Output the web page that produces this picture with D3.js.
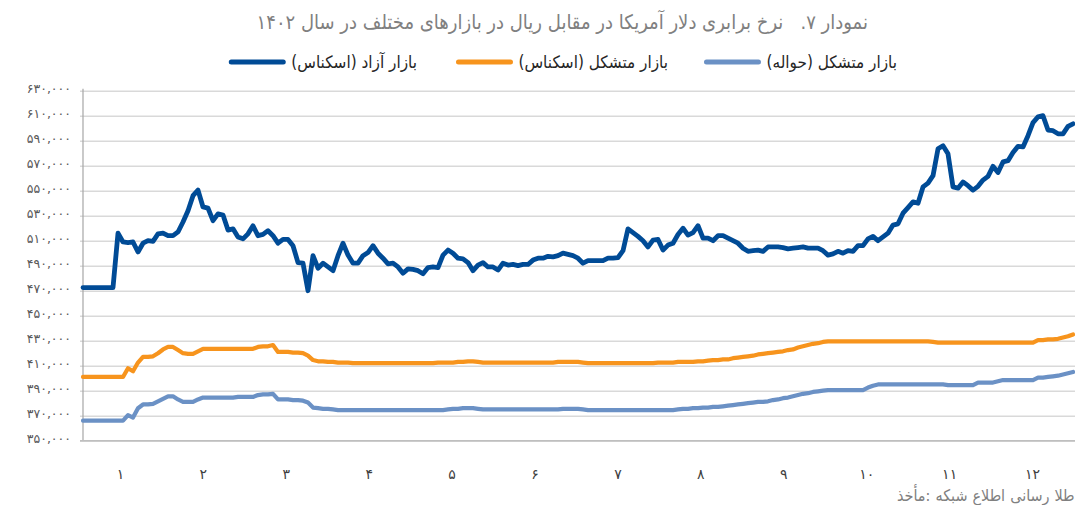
<!DOCTYPE html>
<html>
<head>
<meta charset="utf-8">
<script src="https://cdn.jsdelivr.net/npm/d3@7"></script>
<style>
  body { margin: 0; background: #fff; }
  svg { display: block; font-family: "DejaVu Sans Condensed", "DejaVu Sans", sans-serif; }
</style>
</head>
<body>
<svg width="1075" height="505"></svg>
<script>
var title = "نمودار ۷.   نرخ برابری دلار آمریکا در مقابل ریال در بازارهای مختلف در سال ۱۴۰۲";
// the source line has its words set left to right, and runs past the edge
var sourceWords = ["مأخذ:", "شبکه", "اطلاع", "رسانی", "طلا،", "سکه", "و", "ارز"];

var months = [1, 2, 3, 4, 5, 6, 7, 8, 9, 10, 11, 12];
var yTicks = [350000, 370000, 390000, 410000, 430000, 450000, 470000, 490000,
              510000, 530000, 550000, 570000, 590000, 610000, 630000];

var seriesNames = ["بازار آزاد (اسکناس)", "بازار متشکل (اسکناس)", "بازار متشکل (حواله)"];
var seriesColors = ["#004b96", "#f7941d", "#6b91c5"];

// free market, cash (rial per dollar)
var freeMarket = [
  472500, 472500, 472500, 472500, 472500, 472500, 472500,
  516000, 509000, 508500, 509000, 501000, 508000, 510000, 509500, 515500, 516000, 514000, 514000, 517000,
  525000, 534000, 546000, 550500, 537000, 536000, 526000, 531500, 530500, 518500, 519500, 513000, 511500, 515500, 522000, 514000, 515000, 518000, 514000, 508000,
  511000, 511000, 506000, 492500, 492000, 470000, 498000, 488000, 492000, 489000, 486000, 498000, 508000, 498500, 492000, 492000, 498000, 500500, 506000, 500000,
  496000, 491500, 492000, 489000, 484000, 487500, 487000, 486000, 483500, 488500, 489000, 488500, 498500, 502500, 500000, 496000, 495500, 492500, 486000, 490500,
  492500, 489000, 489000, 486500, 492000, 490500, 491000, 490000, 491000, 491000, 494500, 496000, 496000, 497500, 497000, 498000, 500000, 499000, 498000, 496000,
  492000, 494000, 494000, 494000, 494000, 496000, 496000, 496500, 502000, 519500, 516500, 513500, 510000, 505000, 510500, 511000, 502500, 506500, 508000, 515000,
  520000, 514500, 516500, 522000, 512000, 512000, 510000, 514000, 514000, 512000, 510000, 508000, 504000, 501500, 502000, 502500, 501500, 505000, 505000, 505000,
  504500, 503500, 504000, 504500, 505000, 504000, 504000, 504000, 502000, 498500, 499500, 501500, 500000, 502000, 501500, 506000, 506000, 511500, 513500, 510000,
  513000, 516000, 522500, 523500, 532000, 536500, 541000, 540000, 553000, 556000, 562000, 583500, 586000, 579500, 553000, 552000, 557000, 554000, 550500, 553500,
  558500, 561500, 569500, 564500, 573000, 574000, 580500, 585500, 585000, 594000, 604500, 609000, 610000, 598500, 598000, 595500, 595500, 601500, 603500
];

// exchange centre, cash
var exchangeCash = [
  401000, 401000, 401000, 401000, 401000, 401000, 401000, 401000, 401000,
  408000, 405500, 412500, 417000, 417000, 417500, 420000, 423000, 425000, 425000, 422500,
  420000, 419500, 419500, 421500, 423500, 423500, 423500, 423500, 423500, 423500, 423500, 423500, 423500, 423500, 423500, 425000, 425500, 425500, 426500, 421000,
  421000, 421000, 420500, 420500, 420000, 418000, 414500, 413500, 413500, 413000, 413000, 412500, 412500, 412500, 412000, 412000, 412000, 412000, 412000, 412000,
  412000, 412000, 412000, 412000, 412000, 412000, 412000, 412000, 412000, 412000, 412000, 412500, 412500, 412500, 412500, 413000, 413000, 413500, 413500, 413000,
  412500, 412500, 412500, 412500, 412500, 412500, 412500, 412500, 412500, 412500, 412500, 412500, 412500, 412500, 412500, 413000, 413000, 413000, 413000, 413000,
  412500, 412000, 412000, 412000, 412000, 412000, 412000, 412000, 412000, 412000, 412000, 412000, 412000, 412000, 412000, 412500, 412500, 412500, 412500, 413000,
  413000, 413000, 413000, 413500, 413500, 414000, 414500, 414500, 415000, 415000, 416000, 416500, 417000, 417500, 418000, 419000, 419500, 420000, 420500, 421000,
  421500, 422500, 423000, 424500, 425500, 426500, 427500, 428000, 429000, 429500, 429500, 429500, 429500, 429500, 429500, 429500, 429500, 429500, 429500, 429500,
  429500, 429500, 429500, 429500, 429500, 429500, 429500, 429500, 429500, 429500, 429000, 428500, 428500, 428500, 428500, 428500, 428500, 428500, 428500, 428500,
  428500, 428500, 428500, 428500, 428500, 428500, 428500, 428500, 428500, 428500, 428500, 430500, 430500, 431000, 431000, 431500, 432500, 433500, 435000
];

// exchange centre, transfer
var exchangeTransfer = [
  366000, 366000, 366000, 366000, 366000, 366000, 366000, 366000, 366000,
  370500, 368500, 376000, 379000, 379000, 379500, 381500, 383500, 385500, 385500, 383000,
  381000, 381000, 381000, 383000, 384500, 384500, 384500, 384500, 384500, 384500, 384500, 385000, 385000, 385000, 385000, 386500, 387000, 387000, 387500, 383000,
  383000, 383000, 382500, 382500, 382000, 380500, 376500, 376000, 375500, 375500, 375000, 374500, 374500, 374500, 374500, 374500, 374500, 374500, 374500, 374500,
  374500, 374500, 374500, 374500, 374500, 374500, 374500, 374500, 374500, 374500, 374500, 374500, 374500, 375000, 375500, 375500, 376000, 376000, 376000, 375500,
  375000, 375000, 375000, 375000, 375000, 375000, 375000, 375000, 375000, 375000, 375000, 375000, 375000, 375000, 375000, 375000, 375500, 375500, 375500, 375500,
  375000, 374500, 374500, 374500, 374500, 374500, 374500, 374500, 374500, 374500, 374500, 374500, 374500, 374500, 374500, 374500, 374500, 374500, 374500, 375000,
  375500, 375500, 376000, 376000, 376500, 376500, 377000, 377000, 377500, 378000, 378500, 379000, 379500, 380000, 380500, 381000, 381000, 381500, 382500, 383000,
  384000, 384500, 385500, 386500, 387500, 388000, 389000, 389500, 390000, 390500, 390500, 390500, 390500, 390500, 390500, 390500, 390500, 392500, 394000, 395000,
  395000, 395000, 395000, 395000, 395000, 395000, 395000, 395000, 395000, 395000, 395000, 395000, 395000, 394500, 394500, 394500, 394500, 394500, 394500, 396500,
  396500, 396500, 396500, 397500, 398500, 398500, 398500, 398500, 398500, 398500, 398500, 400500, 400500, 401000, 401500, 402000, 403000, 404000, 405000
];

function fa(s) {
  return String(s).replace(/[0-9]/g, function(d) { return "۰۱۲۳۴۵۶۷۸۹"[+d]; });
}

var svg = d3.select("svg"),
    width = +svg.attr("width"),
    plotLeft = 83,
    plotRight = 1073,
    plotTop = 90.7,
    plotBottom = 440.7;

var x = d3.scaleLinear()
          .domain([0, freeMarket.length - 1])
          .range([plotLeft, plotRight]);

var xMonth = d3.scaleBand()
               .domain(months)
               .range([79, 1074]);

var y = d3.scaleLinear()
          .domain([350000, 630000])
          .range([plotBottom, plotTop]);

// grid
svg.append("g")
   .attr("transform", "translate(80,0)")
   .call(d3.axisLeft(y).tickValues(yTicks).tickSize(-(width - 80)).tickFormat(""))
   .call(function(g) { g.select(".domain").remove(); })
   .selectAll("line")
   .attr("stroke", "#d9d9d9")
   .attr("stroke-width", 1.4);

// y labels
var yAxis = svg.append("g")
   .attr("transform", "translate(" + plotLeft + ",0)")
   .call(d3.axisLeft(y).tickValues(yTicks).tickSize(0).tickPadding(12)
           .tickFormat(function(d) { return fa(d3.format(",")(d)); }));
yAxis.select(".domain").remove();
yAxis.selectAll("text")
   .attr("fill", "#595959")
   .attr("dy", "0.15em")
   .attr("font-family", "DejaVu Sans, sans-serif")
   .attr("font-size", 12.5)
   .attr("letter-spacing", 3);

svg.append("line")
   .attr("x1", plotLeft).attr("x2", plotLeft)
   .attr("y1", y(630000) - 2).attr("y2", plotBottom)
   .attr("stroke", "#a6a6a6")
   .attr("stroke-width", 1.2);

svg.append("line")
   .attr("x1", 80).attr("x2", width)
   .attr("y1", plotBottom).attr("y2", plotBottom)
   .attr("stroke", "#bfbfbf")
   .attr("stroke-width", 1.4);

// x labels
var xAxis = svg.append("g")
   .attr("transform", "translate(0," + plotBottom + ")")
   .call(d3.axisBottom(xMonth).tickSize(0).tickPadding(28).tickFormat(fa));
xAxis.select(".domain").remove();
xAxis.selectAll("text")
   .attr("fill", "#404040")
   .attr("font-family", "DejaVu Sans, sans-serif")
   .attr("font-size", 14);

// lines
var line = d3.line()
             .x(function(d, i) { return x(i); })
             .y(function(d) { return y(d); });

var series = [freeMarket, exchangeCash, exchangeTransfer];
var widths = [4.8, 4.2, 4.2];

svg.append("g")
   .selectAll("path")
   .data(series.slice().reverse())
   .enter().append("path")
   .attr("d", line)
   .attr("fill", "none")
   .attr("stroke", function(d, i) { return seriesColors[2 - i]; })
   .attr("stroke-width", function(d, i) { return widths[2 - i]; })
   .attr("stroke-linejoin", "round")
   .attr("stroke-linecap", "round");

// title
svg.append("text")
   .attr("x", 868)
   .attr("y", 29)
   .attr("direction", "rtl")
   .attr("text-anchor", "start")
   .attr("fill", "#808080")
   .style("white-space", "pre")
   .style("font-size", "20px")
   .text(title);

// legend
var legendRight = [417, 668, 897];
var legend = svg.append("g")
   .selectAll("g")
   .data(seriesNames)
   .enter().append("g");

legend.append("text")
   .attr("x", function(d, i) { return legendRight[i]; })
   .attr("y", 68)
   .attr("direction", "rtl")
   .attr("text-anchor", "start")
   .attr("fill", "#262626")
   .style("font-size", "17px")
   .text(function(d) { return d; });

legend.each(function(d, i) {
  var g = d3.select(this);
  var w = g.select("text").node().getComputedTextLength();
  var end = legendRight[i] - w - 8;
  g.append("line")
   .attr("x1", end - 52).attr("x2", end)
   .attr("y1", 62).attr("y2", 62)
   .attr("stroke", seriesColors[i])
   .attr("stroke-width", 5)
   .attr("stroke-linecap", "round");
});

// source words, placed one after another from the left
var sx = 897;
svg.append("g")
   .selectAll("text")
   .data(sourceWords)
   .enter().append("text")
   .attr("y", 501)
   .attr("fill", "#808080")
   .style("font-size", "16px")
   .text(function(d) { return d; })
   .each(function() {
     d3.select(this).attr("x", sx);
     sx += this.getComputedTextLength() + 5;
   });
</script>
</body>
</html>
